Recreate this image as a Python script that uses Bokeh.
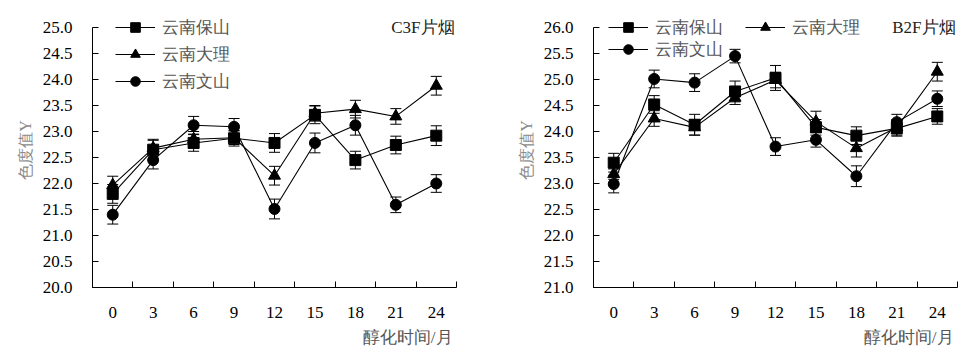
from bokeh.plotting import figure
from bokeh.layouts import row
from bokeh.models import (ColumnDataSource, FixedTicker, PrintfTickFormatter, Whisker, TeeHead,
                          Legend, LegendItem, Label, Title, Range1d)
from bokeh.embed import file_html
from bokeh.resources import INLINE

months = [0, 3, 6, 9, 12, 15, 18, 21, 24]
boundaries = [-1.5, 1.5, 4.5, 7.5, 10.5, 13.5, 16.5, 19.5, 22.5, 25.5]
series_names = ["云南保山", "云南大理", "云南文山"]
markers = ["square", "triangle", "circle"]

# C3F panel
c3f_baoshan = [21.80, 22.65, 22.78, 22.87, 22.78, 23.32, 22.45, 22.74, 22.92]
c3f_baoshan_err = [0.18, 0.20, 0.16, 0.15, 0.18, 0.17, 0.17, 0.17, 0.19]
c3f_dali = [21.97, 22.68, 22.85, 22.88, 22.15, 23.35, 23.43, 23.29, 23.88]
c3f_dali_err = [0.17, 0.15, 0.15, 0.13, 0.18, 0.15, 0.17, 0.15, 0.18]
c3f_wenshan = [21.40, 22.45, 23.12, 23.09, 21.51, 22.78, 23.12, 21.59, 22.00]
c3f_wenshan_err = [0.18, 0.17, 0.17, 0.16, 0.19, 0.19, 0.19, 0.15, 0.17]
c3f_yticks = [20.0, 20.5, 21.0, 21.5, 22.0, 22.5, 23.0, 23.5, 24.0, 24.5, 25.0]

# B2F panel
b2f_baoshan = [23.40, 24.52, 24.13, 24.77, 25.03, 24.08, 23.92, 24.06, 24.29]
b2f_baoshan_err = [0.18, 0.17, 0.20, 0.20, 0.24, 0.15, 0.17, 0.15, 0.15]
b2f_dali = [23.18, 24.25, 24.08, 24.65, 24.99, 24.19, 23.68, 24.08, 25.15]
b2f_dali_err = [0.10, 0.15, 0.15, 0.13, 0.15, 0.20, 0.17, 0.15, 0.18]
b2f_wenshan = [22.99, 25.01, 24.94, 25.45, 23.71, 23.84, 23.14, 24.18, 24.63]
b2f_wenshan_err = [0.17, 0.17, 0.17, 0.13, 0.17, 0.14, 0.20, 0.15, 0.15]
b2f_yticks = [21.0, 21.5, 22.0, 22.5, 23.0, 23.5, 24.0, 24.5, 25.0, 25.5, 26.0]

FONT = "'Liberation Serif', 'Times New Roman', serif"
FS = "17px"

TOP_PAD = 15      # px of frame above the top tick
PLOT_H = 260      # px between bottom and top tick


def make_panel(width, left, right, series, errs, yticks, tag, legend_rows):
    y0, y1 = yticks[0], yticks[-1]
    y_end = y1 + (y1 - y0) * TOP_PAD / PLOT_H
    p = figure(width=width, height=354, output_backend="svg", toolbar_location=None,
               x_range=Range1d(-1.5, 25.5), y_range=Range1d(y0, y_end),
               min_border_left=left, min_border_right=right, min_border_top=27 - TOP_PAD,
               min_border_bottom=67)
    p.outline_line_color = None
    p.xgrid.visible = False
    p.ygrid.visible = False
    p.background_fill_color = "white"
    p.border_fill_color = "white"

    xa = p.xaxis[0]
    xa.ticker = FixedTicker(ticks=months, minor_ticks=boundaries)
    xa.major_tick_in = 0
    xa.major_tick_out = 0
    xa.minor_tick_in = 6
    xa.minor_tick_out = 0
    xa.major_label_standoff = 19
    xa.major_label_text_font = FONT
    xa.major_label_text_font_size = FS
    xa.major_label_text_color = "black"
    xa.axis_line_color = "black"

    ya = p.yaxis[0]
    ya.bounds = (y0, y1)
    ya.ticker = FixedTicker(ticks=yticks, minor_ticks=[])
    ya.formatter = PrintfTickFormatter(format="%.1f")
    ya.major_tick_in = 6
    ya.major_tick_out = 0
    ya.minor_tick_in = 0
    ya.minor_tick_out = 0
    ya.major_label_standoff = 20
    ya.major_label_text_font = FONT
    ya.major_label_text_font_size = FS
    ya.major_label_text_color = "black"
    ya.axis_label = "色度值Y"
    ya.axis_label_text_font = FONT
    ya.axis_label_text_font_size = "16px"
    ya.axis_label_text_font_style = "normal"
    ya.axis_label_text_color = "#8a8a8a"
    ya.axis_label_standoff = 6

    p.add_layout(Title(text="醇化时间/月", align="right", text_font=FONT, text_font_size=FS,
                       text_font_style="normal", text_color="#555555", standoff=10, offset=4),
                 "below")

    items = []
    for name, mk, ys, es in zip(series_names, markers, series, errs):
        src = ColumnDataSource(dict(x=months, y=ys,
                                    upper=[a + b for a, b in zip(ys, es)],
                                    lower=[a - b for a, b in zip(ys, es)]))
        w = Whisker(source=src, base="x", upper="upper", lower="lower", line_color="black",
                    line_width=1, level="glyph",
                    upper_head=TeeHead(size=11, line_color="black", line_width=1),
                    lower_head=TeeHead(size=11, line_color="black", line_width=1))
        p.add_layout(w)
        lr = p.line("x", "y", source=src, line_color="black", line_width=1.1)
        sr = p.scatter("x", "y", source=src, marker=mk, size=11 if mk != "triangle" else 12,
                       fill_color="black", line_color="black")
        items.append(LegendItem(label=name, renderers=[lr, sr]))

    for (idx, loc, orient, spacing) in legend_rows:
        lg = Legend(items=[items[i] for i in idx], location=loc, orientation=orient,
                    padding=0, margin=0, spacing=spacing, glyph_width=40, glyph_height=24,
                    label_height=24, label_standoff=7, border_line_alpha=0,
                    background_fill_alpha=0, label_text_font=FONT, label_text_font_size=FS,
                    label_text_color="#555555")
        p.add_layout(lg)

    p.add_layout(Label(x=25.5, y=y1, text=tag, text_align="right",
                       text_baseline="middle", text_font=FONT, text_font_size=FS,
                       text_color="#222222", x_offset=-2))
    return p


# legend locations are in frame pixels from the frame's bottom-left corner
p1 = make_panel(480, 92, 24, [c3f_baoshan, c3f_dali, c3f_wenshan],
                [c3f_baoshan_err, c3f_dali_err, c3f_wenshan_err], c3f_yticks, "C3F片烟",
                [([0, 1, 2], (23, 194), "vertical", 3)])
p2 = make_panel(485, 113, 8, [b2f_baoshan, b2f_dali, b2f_wenshan],
                [b2f_baoshan_err, b2f_dali_err, b2f_wenshan_err], b2f_yticks, "B2F片烟",
                [([0, 1], (15, 248), "horizontal", 22), ([2], (15, 226), "vertical", 0)])

layout = row(p1, p2)
open("out.html", "w").write(file_html(layout, INLINE))
